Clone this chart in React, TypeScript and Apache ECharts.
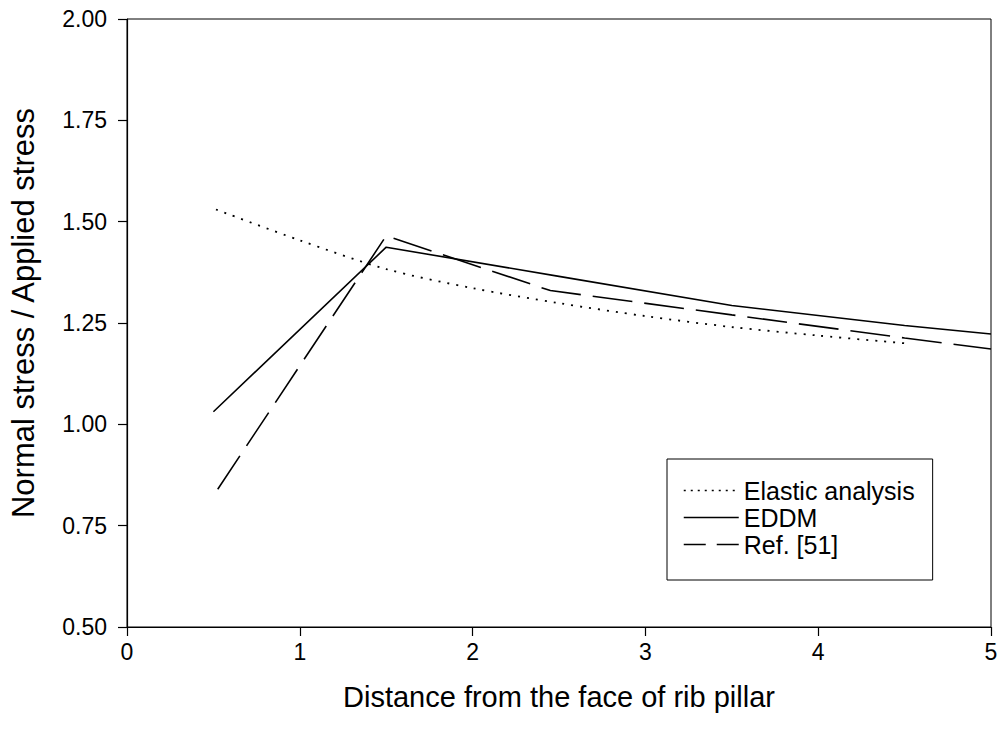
import React, { useEffect, useRef } from "react";
import * as echarts from "echarts";

const elasticX = [0.515, 1.0, 1.5, 2.0, 2.5, 3.0, 3.5, 4.0, 4.5];
const elasticY = [1.53, 1.454, 1.383, 1.336, 1.299, 1.267, 1.24, 1.219, 1.2];

const eddmX = [0.5, 1.5, 2.5, 3.5, 4.5, 5.0];
const eddmY = [1.031, 1.437, 1.365, 1.293, 1.244, 1.223];

const refX = [0.525, 1.5, 2.45, 3.5, 4.5, 5.0];
const refY = [0.84, 1.465, 1.33, 1.27, 1.213, 1.186];

const seriesNames = ["Elastic analysis", "EDDM", "Ref. [51]"];
const xTitle = "Distance from the face of rib pillar";
const yTitle = "Normal stress / Applied stress";

const FONT = "'Liberation Sans', Arial, sans-serif";

const pairs = (xs: number[], ys: number[]) => xs.map((x, i) => [x, ys[i]]);

export default function App() {
  const ref = useRef<HTMLDivElement>(null);
  useEffect(() => {
    if (!ref.current) return;
    const chart = echarts.init(ref.current, null, { renderer: "svg" });
    chart.setOption({
      animation: false,
      backgroundColor: "#fff",
      grid: {
        left: 127,
        right: 10,
        top: 19,
        bottom: 103,
        show: true,
        borderColor: "#000",
        borderWidth: 1,
        backgroundColor: "transparent",
      },
      xAxis: {
        type: "value",
        min: 0,
        max: 5,
        interval: 1,
        name: xTitle,
        nameLocation: "middle",
        nameGap: 55,
        nameTextStyle: { fontFamily: FONT, fontSize: 29, color: "#000" },
        axisLine: { show: true, lineStyle: { color: "#000", width: 1.2 } },
        axisTick: { show: true, inside: false, length: 9, lineStyle: { color: "#000", width: 1.2 } },
        axisLabel: { fontFamily: FONT, fontSize: 23, color: "#000", margin: 13 },
        splitLine: { show: false },
      },
      yAxis: {
        type: "value",
        min: 0.5,
        max: 2.0,
        interval: 0.25,
        name: yTitle,
        nameLocation: "middle",
        nameGap: 88,
        nameRotate: 90,
        nameTextStyle: {
          fontFamily: FONT,
          fontSize: 31,
          color: "#000",
          padding: [0, 0, 0, 20],
        },
        axisLine: { show: true, lineStyle: { color: "#000", width: 1.2 } },
        axisTick: { show: true, inside: false, length: 9, lineStyle: { color: "#000", width: 1.2 } },
        axisLabel: {
          fontFamily: FONT,
          fontSize: 23,
          color: "#000",
          margin: 20,
          formatter: (v: number) => v.toFixed(2),
        },
        splitLine: { show: false },
      },
      legend: {
        orient: "vertical",
        left: 667,
        top: 459,
        borderColor: "#000",
        borderWidth: 1,
        borderRadius: 0,
        padding: [18, 18, 22, 16],
        itemWidth: 55,
        itemHeight: 14,
        itemGap: 0,
        itemStyle: { color: "rgba(0,0,0,0)", borderWidth: 0, opacity: 0 },
        textStyle: { fontFamily: FONT, fontSize: 25, color: "#000", lineHeight: 27 },
        data: [
          { name: seriesNames[0], lineStyle: { type: [2, 5], width: 1.5, color: "#000" } },
          { name: seriesNames[1], lineStyle: { type: "solid", width: 1.5, color: "#000" } },
          { name: seriesNames[2], lineStyle: { type: [22, 11], width: 1.5, color: "#000" } },
        ],
      },
      series: [
        {
          name: seriesNames[0],
          type: "line",
          data: pairs(elasticX, elasticY),
          smooth: 0.3,
          symbol: "none",
          lineStyle: { color: "#000", width: 1.8, type: [2, 7] },
          itemStyle: { color: "#000" },
        },
        {
          name: seriesNames[1],
          type: "line",
          data: pairs(eddmX, eddmY),
          symbol: "none",
          lineStyle: { color: "#000", width: 1.6, type: "solid" },
          itemStyle: { color: "#000" },
        },
        {
          name: seriesNames[2],
          type: "line",
          data: pairs(refX, refY),
          symbol: "none",
          lineStyle: { color: "#000", width: 1.6, type: [40, 12] },
          itemStyle: { color: "#000" },
        },
      ],
    });
    return () => chart.dispose();
  }, []);
  return <div ref={ref} style={{ width: 1001, height: 730, position: "fixed", left: 0, top: 0 }} />;
}
